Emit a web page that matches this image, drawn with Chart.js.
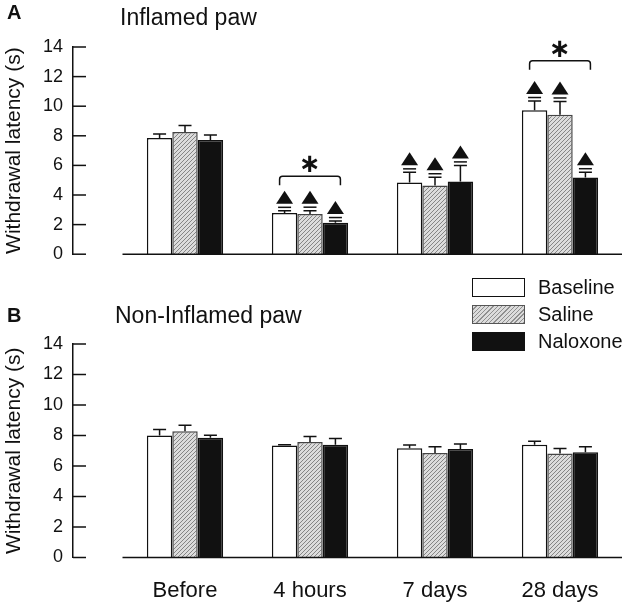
<!DOCTYPE html>
<html><head><meta charset="utf-8">
<script src="https://cdn.jsdelivr.net/npm/chart.js@4/dist/chart.umd.min.js"></script>
<style>
html,body{margin:0;padding:0;background:#fff;width:630px;height:613px;overflow:hidden;font-family:"Liberation Sans",Arial,Helvetica,sans-serif;color:#111}
#wrapA{position:absolute;left:0;top:0;width:630px;height:275px}
#wrapB{position:absolute;left:0;top:275px;width:630px;height:338px}
.t{position:absolute;white-space:nowrap;line-height:1}
.letter{font-weight:bold;font-size:20px}
.ptitle{font-size:23px}
.leg{position:absolute;left:472px;width:53px;height:19px;box-sizing:border-box;border:1.5px solid #111}
.legt{position:absolute;left:538px;font-size:20px;line-height:19px;white-space:nowrap}
</style></head>
<body>
<div id="wrapA"><canvas id="cA" width="630" height="275"></canvas></div>
<div id="wrapB"><canvas id="cB" width="630" height="338"></canvas></div>
<div class="t letter" style="left:7px;top:2px">A</div>
<div class="t ptitle" style="left:120px;top:5.5px">Inflamed paw</div>
<div class="t letter" style="left:7px;top:305px">B</div>
<div class="t ptitle" style="left:115px;top:303.5px">Non-Inflamed paw</div>
<div id="legend"></div>
<script>
// ---------- data ----------
const categories = ['Before', '4 hours', '7 days', '28 days'];
const seriesNames = ['Baseline', 'Saline', 'Naloxone'];
const yTicks = [0, 2, 4, 6, 8, 10, 12, 14];

// Panel A: inflamed paw (mean, SEM)
const inflamedBaseline    = [7.85, 2.78, 4.85, 9.73];
const inflamedBaselineErr = [0.27, 0.15, 0.68, 0.62];
const inflamedSaline      = [8.25, 2.72, 4.65, 9.42];
const inflamedSalineErr   = [0.45, 0.22, 0.55, 0.9];
const inflamedNaloxone    = [7.72, 2.12, 4.92, 5.18];
const inflamedNaloxoneErr = [0.33, 0.12, 1.08, 0.36];
// triangle markers (significant vs. before)
const inflamedBaselineMark = [false, true, true, true];
const inflamedSalineMark   = [false, true, true, true];
const inflamedNaloxoneMark = [false, true, true, true];
// asterisk brackets: category index and bracket height (s)
const inflamedSigCats   = [1, 3];
const inflamedSigLevels = [5.27, 13.07];

// Panel B: non-inflamed paw
const nonInflamedBaseline    = [8.0, 7.35, 7.17, 7.4];
const nonInflamedBaselineErr = [0.4, 0.05, 0.2, 0.22];
const nonInflamedSaline      = [8.28, 7.58, 6.85, 6.82];
const nonInflamedSalineErr   = [0.4, 0.35, 0.42, 0.32];
const nonInflamedNaloxone    = [7.85, 7.4, 7.12, 6.9];
const nonInflamedNaloxoneErr = [0.17, 0.4, 0.33, 0.36];
const nonInflamedMark = [false, false, false, false];
const nonInflamedSigCats = [];
const nonInflamedSigLevels = [];

// ---------- styles ----------
const INK = '#111';
function makeHatch(){
  const c = document.createElement('canvas'); c.width = 4; c.height = 4;
  const g = c.getContext('2d');
  g.fillStyle = '#dcdcdc'; g.fillRect(0,0,4,4);
  g.strokeStyle = '#858585'; g.lineWidth = 1;
  g.beginPath();
  g.moveTo(0,4); g.lineTo(4,0);
  g.moveTo(-1,1); g.lineTo(1,-1);
  g.moveTo(3,5); g.lineTo(5,3);
  g.stroke();
  return g.createPattern(c, 'repeat');
}
const hatch = makeHatch();
const fills = ['#ffffff', hatch, INK];
const borders = [INK, '#444', INK];

// legend (HTML)
(function(){
  const lg = document.getElementById('legend');
  const tops = [278, 305, 332];
  const bgs = ['#fff', 'repeating-linear-gradient(135deg,#dcdcdc 0px,#dcdcdc 2px,#8f8f8f 2px,#8f8f8f 3px)', INK];
  seriesNames.forEach((n,i)=>{
    const b = document.createElement('div'); b.className='leg';
    b.style.top = tops[i]+'px'; b.style.background = bgs[i];
    if (i===1) b.style.borderColor = '#555';
    lg.appendChild(b);
    const t = document.createElement('div'); t.className='legt';
    t.style.top = tops[i]+'px'; t.textContent = n;
    lg.appendChild(t);
  });
})();

function overlay(errs, marks, sigCats, sigLevels){
  return {
    id: 'overlay',
    afterDatasetsDraw(chart){
      const ctx = chart.ctx, ys = chart.scales.y, xs = chart.scales.x, ca = chart.chartArea;
      ctx.save();
      ctx.strokeStyle = INK; ctx.fillStyle = INK; ctx.lineWidth = 1.5;
      // x baseline
      ctx.beginPath();
      ctx.moveTo(xs.getPixelForValue(-0.5), ca.bottom);
      ctx.lineTo(ca.right, ca.bottom);
      ctx.stroke();
      // inward y ticks
      ys.ticks.forEach(t=>{
        const py = ys.getPixelForValue(t.value);
        ctx.beginPath(); ctx.moveTo(ca.left, py); ctx.lineTo(ca.left+13, py); ctx.stroke();
      });
      // error bars and markers
      chart.data.datasets.forEach((ds, d)=>{
        const meta = chart.getDatasetMeta(d);
        meta.data.forEach((el, i)=>{
          const v = ds.data[i].y, e = errs[d][i];
          const top = ys.getPixelForValue(v), cap = ys.getPixelForValue(v+e);
          const x = el.x;
          ctx.lineWidth = 1.5;
          ctx.beginPath();
          ctx.moveTo(x, top); ctx.lineTo(x, cap);
          ctx.moveTo(x-6.5, cap); ctx.lineTo(x+6.5, cap);
          ctx.stroke();
          if (marks[d][i]) {
            ctx.beginPath();
            ctx.moveTo(x-6.5, cap-3.5); ctx.lineTo(x+6.5, cap-3.5);
            ctx.stroke();
            ctx.beginPath();
            ctx.moveTo(x-8.5, cap-7); ctx.lineTo(x+8.5, cap-7); ctx.lineTo(x, cap-20); ctx.closePath();
            ctx.fill();
          }
        });
      });
      // brackets with asterisks
      const m0 = chart.getDatasetMeta(0), m2 = chart.getDatasetMeta(2);
      sigCats.forEach((c, k)=>{
        const x1 = m0.data[c].x - 5, x2 = m2.data[c].x + 5;
        const yb = ys.getPixelForValue(sigLevels[k]);
        ctx.lineWidth = 1.5;
        ctx.beginPath();
        ctx.moveTo(x1, yb+9); ctx.lineTo(x1, yb+3);
        ctx.quadraticCurveTo(x1, yb, x1+3, yb);
        ctx.lineTo(x2-3, yb);
        ctx.quadraticCurveTo(x2, yb, x2, yb+3);
        ctx.lineTo(x2, yb+9);
        ctx.stroke();
        ctx.font = 'bold 26px "DejaVu Sans"';
        ctx.textAlign = 'center'; ctx.textBaseline = 'middle';
        ctx.fillText('\u2217', (x1+x2)/2, yb-11);
      });
      ctx.restore();
    }
  };
}

function makeChart(id, vals, errs, marks, sigCats, sigLevels, showLabels, padTop, xHeight){
  return new Chart(document.getElementById(id), {
    type: 'bar',
    data: {
      datasets: seriesNames.map((n, d)=>({
        label: n,
        data: vals[d].map((v, i)=>({x: i, y: v})),
        backgroundColor: fills[d],
        borderColor: borders[d],
        borderWidth: 1.5,
        categoryPercentage: 0.61,
        barPercentage: 1
      }))
    },
    options: {
      animation: false, responsive: false, devicePixelRatio: 1,
      layout: {padding: {top: padTop, right: 8, left: 0, bottom: 0}},
      plugins: {legend: {display: false}, tooltip: {enabled: false}},
      scales: {
        x: {
          type: 'linear', min: -0.896, max: 3.496, offset: false,
          grid: {display: false, drawTicks: false},
          border: {display: false},
          afterBuildTicks(ax){ ax.ticks = categories.map((c, i)=>({value: i})); },
          ticks: {display: showLabels, padding: 20, autoSkip: false, maxRotation: 0,
                  font: {size: 22, family: '"Liberation Sans", Arial, sans-serif'}, color: INK,
                  callback: (v)=>categories[v]},
          afterFit(s){ s.height = xHeight; }
        },
        y: {
          min: 0, max: 14,
          afterBuildTicks(ax){ ax.ticks = yTicks.map(v=>({value: v})); },
          ticks: {padding: 10, font: {size: 18, family: '"Liberation Sans", Arial, sans-serif'}, color: INK},
          grid: {display: false, drawTicks: false},
          border: {display: true, color: INK, width: 1.5},
          title: {display: true, text: 'Withdrawal latency (s)', color: INK,
                  font: {size: 21, family: '"Liberation Sans", Arial, sans-serif'}, padding: {top: 2, bottom: 0}},
          afterFit(s){ s.width = 73; }
        }
      }
    },
    plugins: [overlay(errs, marks, sigCats, sigLevels)]
  });
}

makeChart('cA',
  [inflamedBaseline, inflamedSaline, inflamedNaloxone],
  [inflamedBaselineErr, inflamedSalineErr, inflamedNaloxoneErr],
  [inflamedBaselineMark, inflamedSalineMark, inflamedNaloxoneMark],
  inflamedSigCats, inflamedSigLevels, false, 47, 18);

makeChart('cB',
  [nonInflamedBaseline, nonInflamedSaline, nonInflamedNaloxone],
  [nonInflamedBaselineErr, nonInflamedSalineErr, nonInflamedNaloxoneErr],
  [nonInflamedMark, nonInflamedMark, nonInflamedMark],
  nonInflamedSigCats, nonInflamedSigLevels, true, 69, 55.5);
</script>
</body></html>
